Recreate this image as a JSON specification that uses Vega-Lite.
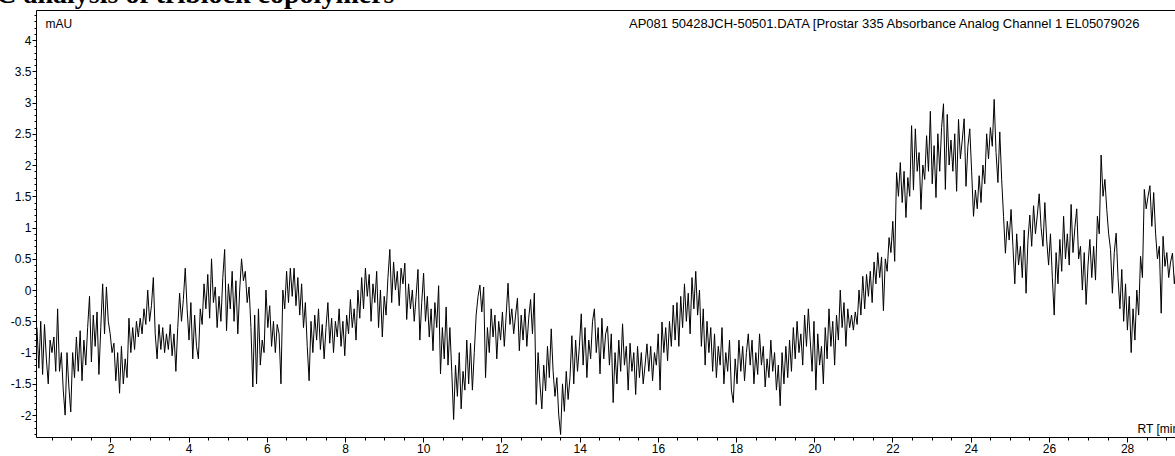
{
"$schema": "https://vega.github.io/schema/vega-lite/v6.json",
"width": 1139, "height": 427,
"autosize": {"type": "none"},
"padding": {"left": 36, "top": 10, "right": 0, "bottom": 19},
"background": "white",
"config": {"view": {"stroke": null}, "font": "Liberation Sans",
  "axis": {"labelFont": "Liberation Sans", "titleFont": "Liberation Sans", "labelColor": "black", "titleColor": "black", "domainColor": "black", "tickColor": "black", "grid": false, "labelFontSize": 12, "titleFontSize": 12, "titleFontWeight": "normal", "labelOverlap": false, "labelFlush": false}},
"title": {"text": "SEC analysis of triblock copolymers", "anchor": "start", "frame": "group", "font": "Liberation Serif", "fontSize": 28, "fontWeight": "bold", "color": "black", "offset": 1, "dx": -74, "dy": 28, "baseline": "bottom"},
"data": {"values": [
{"t":0.12,"v":-0.6},{"t":0.168,"v":-1.25},{"t":0.216,"v":-0.5},{"t":0.264,"v":-1.35},{"t":0.312,"v":-0.55},{"t":0.36,"v":-1.1},{"t":0.408,"v":-1.5},{"t":0.456,"v":-0.8},{"t":0.504,"v":-1.0},{"t":0.552,"v":-0.75},{"t":0.6,"v":-1.3},{"t":0.648,"v":-0.3},{"t":0.696,"v":-1.3},{"t":0.744,"v":-1.0},{"t":0.792,"v":-1.6},{"t":0.84,"v":-2.0},{"t":0.888,"v":-1.0},{"t":0.936,"v":-1.55},{"t":0.984,"v":-1.95},{"t":1.032,"v":-1.0},
{"t":1.08,"v":-1.4},{"t":1.128,"v":-0.75},{"t":1.176,"v":-1.3},{"t":1.224,"v":-0.65},{"t":1.272,"v":-1.45},{"t":1.32,"v":-0.8},{"t":1.368,"v":-1.2},{"t":1.416,"v":-0.6},{"t":1.464,"v":-0.1},{"t":1.512,"v":-1.15},{"t":1.56,"v":-0.4},{"t":1.608,"v":-0.9},{"t":1.656,"v":-0.35},{"t":1.704,"v":-1.35},{"t":1.752,"v":-0.6},{"t":1.8,"v":0.1},{"t":1.848,"v":-0.7},{"t":1.896,"v":0.05},{"t":1.944,"v":-0.5},{"t":1.992,"v":-0.7},
{"t":2.04,"v":-1.0},{"t":2.088,"v":-0.85},{"t":2.136,"v":-1.45},{"t":2.184,"v":-1.0},{"t":2.232,"v":-1.65},{"t":2.28,"v":-0.9},{"t":2.328,"v":-1.5},{"t":2.376,"v":-1.1},{"t":2.424,"v":-1.4},{"t":2.472,"v":-0.45},{"t":2.52,"v":-1.0},{"t":2.568,"v":-0.6},{"t":2.616,"v":-0.95},{"t":2.664,"v":-0.5},{"t":2.712,"v":-0.75},{"t":2.76,"v":-0.45},{"t":2.808,"v":-0.7},{"t":2.856,"v":-0.3},{"t":2.904,"v":-0.55},{"t":2.952,"v":0.0},
{"t":3.0,"v":-0.5},{"t":3.048,"v":-0.25},{"t":3.096,"v":0.2},{"t":3.144,"v":-0.7},{"t":3.192,"v":-1.1},{"t":3.24,"v":-0.55},{"t":3.288,"v":-0.95},{"t":3.336,"v":-0.6},{"t":3.384,"v":-1.0},{"t":3.432,"v":-0.7},{"t":3.48,"v":-0.95},{"t":3.528,"v":-0.55},{"t":3.576,"v":-1.05},{"t":3.624,"v":-0.7},{"t":3.672,"v":-1.3},{"t":3.72,"v":-0.6},{"t":3.768,"v":-0.05},{"t":3.816,"v":-0.5},{"t":3.864,"v":-0.15},{"t":3.912,"v":0.35},
{"t":3.96,"v":-0.3},{"t":4.008,"v":-0.8},{"t":4.056,"v":-0.2},{"t":4.104,"v":-1.1},{"t":4.152,"v":-0.4},{"t":4.2,"v":-0.9},{"t":4.248,"v":-1.1},{"t":4.296,"v":-0.3},{"t":4.344,"v":-0.55},{"t":4.392,"v":0.1},{"t":4.44,"v":-0.3},{"t":4.488,"v":0.25},{"t":4.536,"v":-0.45},{"t":4.584,"v":0.5},{"t":4.632,"v":-0.2},{"t":4.68,"v":0.05},{"t":4.728,"v":-0.6},{"t":4.776,"v":-0.1},{"t":4.824,"v":-0.5},{"t":4.872,"v":0.2},
{"t":4.92,"v":0.65},{"t":4.968,"v":-0.65},{"t":5.016,"v":0.1},{"t":5.064,"v":-0.3},{"t":5.112,"v":0.3},{"t":5.16,"v":-0.5},{"t":5.208,"v":0.15},{"t":5.256,"v":-0.7},{"t":5.304,"v":0.0},{"t":5.352,"v":0.5},{"t":5.4,"v":0.15},{"t":5.448,"v":0.3},{"t":5.496,"v":-0.2},{"t":5.544,"v":0.05},{"t":5.592,"v":-0.6},{"t":5.64,"v":-1.55},{"t":5.688,"v":-0.4},{"t":5.736,"v":-1.5},{"t":5.784,"v":-0.3},{"t":5.832,"v":-1.2},
{"t":5.88,"v":-0.8},{"t":5.928,"v":-1.0},{"t":5.976,"v":0.0},{"t":6.024,"v":-0.6},{"t":6.072,"v":-0.25},{"t":6.12,"v":-0.9},{"t":6.168,"v":-0.5},{"t":6.216,"v":-1.0},{"t":6.264,"v":-0.55},{"t":6.312,"v":-0.7},{"t":6.36,"v":-1.5},{"t":6.408,"v":0.0},{"t":6.456,"v":-0.3},{"t":6.504,"v":0.3},{"t":6.552,"v":-0.2},{"t":6.6,"v":0.35},{"t":6.648,"v":-0.1},{"t":6.696,"v":0.35},{"t":6.744,"v":-0.25},{"t":6.792,"v":0.2},
{"t":6.84,"v":-0.4},{"t":6.888,"v":0.1},{"t":6.936,"v":-0.6},{"t":6.984,"v":-0.2},{"t":7.032,"v":-0.9},{"t":7.08,"v":-1.45},{"t":7.128,"v":-0.5},{"t":7.176,"v":-1.0},{"t":7.224,"v":-0.4},{"t":7.272,"v":-0.8},{"t":7.32,"v":-0.3},{"t":7.368,"v":-0.95},{"t":7.416,"v":-0.55},{"t":7.464,"v":-1.1},{"t":7.512,"v":-0.6},{"t":7.56,"v":-0.2},{"t":7.608,"v":-0.85},{"t":7.656,"v":-0.45},{"t":7.704,"v":-1.0},{"t":7.752,"v":-0.5},
{"t":7.8,"v":-0.75},{"t":7.848,"v":-0.3},{"t":7.896,"v":-0.9},{"t":7.944,"v":-0.5},{"t":7.992,"v":-1.05},{"t":8.04,"v":-0.4},{"t":8.088,"v":-0.7},{"t":8.136,"v":-0.15},{"t":8.184,"v":-0.6},{"t":8.232,"v":-0.3},{"t":8.28,"v":-0.8},{"t":8.328,"v":0.0},{"t":8.376,"v":-0.45},{"t":8.424,"v":0.2},{"t":8.472,"v":-0.3},{"t":8.52,"v":0.35},{"t":8.568,"v":-0.1},{"t":8.616,"v":0.25},{"t":8.664,"v":-0.5},{"t":8.712,"v":0.1},
{"t":8.76,"v":-0.2},{"t":8.808,"v":0.3},{"t":8.856,"v":-0.6},{"t":8.904,"v":0.0},{"t":8.952,"v":-0.75},{"t":9.0,"v":-0.1},{"t":9.048,"v":-0.4},{"t":9.096,"v":0.2},{"t":9.144,"v":0.65},{"t":9.192,"v":-0.2},{"t":9.24,"v":0.45},{"t":9.288,"v":0.0},{"t":9.336,"v":0.3},{"t":9.384,"v":-0.25},{"t":9.432,"v":0.35},{"t":9.48,"v":0.1},{"t":9.528,"v":0.43},{"t":9.576,"v":-0.47},{"t":9.624,"v":0.1},{"t":9.672,"v":-0.3},
{"t":9.72,"v":0.0},{"t":9.768,"v":-0.5},{"t":9.816,"v":-0.1},{"t":9.864,"v":0.33},{"t":9.912,"v":-0.8},{"t":9.96,"v":-0.2},{"t":10.008,"v":0.27},{"t":10.056,"v":-0.5},{"t":10.104,"v":-0.1},{"t":10.152,"v":-0.75},{"t":10.2,"v":-0.3},{"t":10.248,"v":-0.97},{"t":10.296,"v":-0.2},{"t":10.344,"v":-0.6},{"t":10.392,"v":0.07},{"t":10.44,"v":-1.34},{"t":10.488,"v":-0.6},{"t":10.536,"v":-1.1},{"t":10.584,"v":-0.27},{"t":10.632,"v":-1.2},
{"t":10.68,"v":-0.6},{"t":10.728,"v":-1.3},{"t":10.776,"v":-2.07},{"t":10.824,"v":-1.2},{"t":10.872,"v":-1.7},{"t":10.92,"v":-1.0},{"t":10.968,"v":-1.9},{"t":11.016,"v":-1.3},{"t":11.064,"v":-1.6},{"t":11.112,"v":-0.8},{"t":11.16,"v":-1.5},{"t":11.208,"v":-0.85},{"t":11.256,"v":-1.6},{"t":11.304,"v":-1.0},{"t":11.352,"v":-0.4},{"t":11.4,"v":-0.1},{"t":11.448,"v":0.08},{"t":11.496,"v":-0.35},{"t":11.544,"v":0.05},{"t":11.592,"v":-1.4},
{"t":11.64,"v":-0.6},{"t":11.688,"v":-1.0},{"t":11.736,"v":-0.3},{"t":11.784,"v":-0.75},{"t":11.832,"v":-0.4},{"t":11.88,"v":-1.1},{"t":11.928,"v":-0.5},{"t":11.976,"v":-0.8},{"t":12.024,"v":-0.35},{"t":12.072,"v":-0.9},{"t":12.12,"v":-0.4},{"t":12.168,"v":0.11},{"t":12.216,"v":-0.55},{"t":12.264,"v":-0.3},{"t":12.312,"v":-0.7},{"t":12.36,"v":-0.4},{"t":12.408,"v":-0.13},{"t":12.456,"v":-0.97},{"t":12.504,"v":-0.4},{"t":12.552,"v":-0.8},
{"t":12.6,"v":-0.3},{"t":12.648,"v":-0.9},{"t":12.696,"v":-0.45},{"t":12.744,"v":-0.15},{"t":12.792,"v":-0.7},{"t":12.84,"v":-0.05},{"t":12.888,"v":-1.83},{"t":12.936,"v":-1.0},{"t":12.984,"v":-1.5},{"t":13.032,"v":-1.9},{"t":13.08,"v":-1.2},{"t":13.128,"v":-1.61},{"t":13.176,"v":-0.9},{"t":13.224,"v":-1.4},{"t":13.272,"v":-0.62},{"t":13.32,"v":-1.3},{"t":13.368,"v":-1.7},{"t":13.416,"v":-1.4},{"t":13.464,"v":-2.0},{"t":13.512,"v":-2.31},
{"t":13.56,"v":-1.5},{"t":13.608,"v":-1.94},{"t":13.656,"v":-1.3},{"t":13.704,"v":-1.75},{"t":13.752,"v":-1.4},{"t":13.8,"v":-0.73},{"t":13.848,"v":-1.5},{"t":13.896,"v":-0.8},{"t":13.944,"v":-1.3},{"t":13.992,"v":-0.9},{"t":14.04,"v":-0.38},{"t":14.088,"v":-1.2},{"t":14.136,"v":-0.6},{"t":14.184,"v":-1.4},{"t":14.232,"v":-0.8},{"t":14.28,"v":-1.1},{"t":14.328,"v":-0.5},{"t":14.376,"v":-0.3},{"t":14.424,"v":-1.0},{"t":14.472,"v":-0.6},
{"t":14.52,"v":-1.34},{"t":14.568,"v":-0.45},{"t":14.616,"v":-1.1},{"t":14.664,"v":-0.7},{"t":14.712,"v":-0.58},{"t":14.76,"v":-1.2},{"t":14.808,"v":-0.7},{"t":14.856,"v":-1.8},{"t":14.904,"v":-1.0},{"t":14.952,"v":-1.5},{"t":15.0,"v":-0.8},{"t":15.048,"v":-1.3},{"t":15.096,"v":-0.54},{"t":15.144,"v":-1.2},{"t":15.192,"v":-0.9},{"t":15.24,"v":-1.6},{"t":15.288,"v":-0.85},{"t":15.336,"v":-1.3},{"t":15.384,"v":-1.0},{"t":15.432,"v":-1.67},
{"t":15.48,"v":-0.9},{"t":15.528,"v":-1.4},{"t":15.576,"v":-1.0},{"t":15.624,"v":-1.5},{"t":15.672,"v":-1.2},{"t":15.72,"v":-0.86},{"t":15.768,"v":-1.3},{"t":15.816,"v":-0.9},{"t":15.864,"v":-1.45},{"t":15.912,"v":-1.0},{"t":15.96,"v":-1.2},{"t":16.008,"v":-0.7},{"t":16.056,"v":-1.6},{"t":16.104,"v":-0.51},{"t":16.152,"v":-1.0},{"t":16.2,"v":-0.6},{"t":16.248,"v":-1.13},{"t":16.296,"v":-0.5},{"t":16.344,"v":-0.9},{"t":16.392,"v":-0.24},
{"t":16.44,"v":-0.8},{"t":16.488,"v":-0.2},{"t":16.536,"v":-0.9},{"t":16.584,"v":-0.1},{"t":16.632,"v":-0.6},{"t":16.68,"v":0.1},{"t":16.728,"v":-0.5},{"t":16.776,"v":-0.05},{"t":16.824,"v":-0.7},{"t":16.872,"v":0.2},{"t":16.92,"v":-0.3},{"t":16.968,"v":0.3},{"t":17.016,"v":-0.4},{"t":17.064,"v":0.0},{"t":17.112,"v":-0.9},{"t":17.16,"v":-0.3},{"t":17.208,"v":-1.2},{"t":17.256,"v":-0.5},{"t":17.304,"v":-1.0},{"t":17.352,"v":-0.6},
{"t":17.4,"v":-1.3},{"t":17.448,"v":-0.7},{"t":17.496,"v":-1.4},{"t":17.544,"v":-0.9},{"t":17.592,"v":-1.2},{"t":17.64,"v":-0.6},{"t":17.688,"v":-1.5},{"t":17.736,"v":-1.0},{"t":17.784,"v":-1.3},{"t":17.832,"v":-0.8},{"t":17.88,"v":-1.6},{"t":17.928,"v":-1.8},{"t":17.976,"v":-1.1},{"t":18.024,"v":-1.5},{"t":18.072,"v":-0.8},{"t":18.12,"v":-1.3},{"t":18.168,"v":-0.9},{"t":18.216,"v":-1.45},{"t":18.264,"v":-1.0},{"t":18.312,"v":-0.7},
{"t":18.36,"v":-1.2},{"t":18.408,"v":-0.8},{"t":18.456,"v":-1.5},{"t":18.504,"v":-1.0},{"t":18.552,"v":-1.35},{"t":18.6,"v":-0.7},{"t":18.648,"v":-1.2},{"t":18.696,"v":-0.9},{"t":18.744,"v":-1.55},{"t":18.792,"v":-1.1},{"t":18.84,"v":-1.4},{"t":18.888,"v":-0.8},{"t":18.936,"v":-1.3},{"t":18.984,"v":-1.0},{"t":19.032,"v":-1.6},{"t":19.08,"v":-1.2},{"t":19.128,"v":-1.85},{"t":19.176,"v":-1.0},{"t":19.224,"v":-1.5},{"t":19.272,"v":-0.9},
{"t":19.32,"v":-1.4},{"t":19.368,"v":-0.8},{"t":19.416,"v":-1.3},{"t":19.464,"v":-0.6},{"t":19.512,"v":-1.1},{"t":19.56,"v":-0.5},{"t":19.608,"v":-1.0},{"t":19.656,"v":-0.7},{"t":19.704,"v":-1.2},{"t":19.752,"v":-0.4},{"t":19.8,"v":-0.9},{"t":19.848,"v":-0.3},{"t":19.896,"v":-0.8},{"t":19.944,"v":-1.3},{"t":19.992,"v":-0.5},{"t":20.04,"v":-1.6},{"t":20.088,"v":-0.7},{"t":20.136,"v":-1.2},{"t":20.184,"v":-0.9},{"t":20.232,"v":-1.5},
{"t":20.28,"v":-0.6},{"t":20.328,"v":-1.1},{"t":20.376,"v":-0.3},{"t":20.424,"v":-0.9},{"t":20.472,"v":-0.5},{"t":20.52,"v":-1.2},{"t":20.568,"v":-0.4},{"t":20.616,"v":-0.8},{"t":20.664,"v":0.0},{"t":20.712,"v":-0.6},{"t":20.76,"v":-0.2},{"t":20.808,"v":-0.9},{"t":20.856,"v":-0.3},{"t":20.904,"v":-0.6},{"t":20.952,"v":-0.4},{"t":21.0,"v":-0.64},{"t":21.048,"v":-0.35},{"t":21.096,"v":-0.55},{"t":21.144,"v":0.0},{"t":21.192,"v":-0.4},
{"t":21.24,"v":0.22},{"t":21.288,"v":-0.3},{"t":21.336,"v":0.25},{"t":21.384,"v":-0.1},{"t":21.432,"v":0.3},{"t":21.48,"v":-0.2},{"t":21.528,"v":0.45},{"t":21.576,"v":0.1},{"t":21.624,"v":0.6},{"t":21.672,"v":0.2},{"t":21.72,"v":0.53},{"t":21.768,"v":-0.33},{"t":21.816,"v":0.5},{"t":21.864,"v":0.3},{"t":21.912,"v":0.84},{"t":21.96,"v":0.6},{"t":22.008,"v":1.1},{"t":22.056,"v":0.46},{"t":22.104,"v":1.88},{"t":22.152,"v":1.5},
{"t":22.2,"v":2.04},{"t":22.248,"v":1.4},{"t":22.296,"v":1.9},{"t":22.344,"v":1.16},{"t":22.392,"v":1.8},{"t":22.44,"v":1.5},{"t":22.488,"v":2.63},{"t":22.536,"v":1.6},{"t":22.584,"v":2.58},{"t":22.632,"v":1.9},{"t":22.68,"v":2.2},{"t":22.728,"v":1.29},{"t":22.776,"v":2.0},{"t":22.824,"v":1.77},{"t":22.872,"v":2.47},{"t":22.92,"v":1.9},{"t":22.968,"v":2.86},{"t":23.016,"v":1.7},{"t":23.064,"v":2.31},{"t":23.112,"v":1.48},
{"t":23.16,"v":2.5},{"t":23.208,"v":1.9},{"t":23.256,"v":2.6},{"t":23.304,"v":2.98},{"t":23.352,"v":1.61},{"t":23.4,"v":2.81},{"t":23.448,"v":2.0},{"t":23.496,"v":2.4},{"t":23.544,"v":1.9},{"t":23.592,"v":2.5},{"t":23.64,"v":1.58},{"t":23.688,"v":2.73},{"t":23.736,"v":2.1},{"t":23.784,"v":2.4},{"t":23.832,"v":2.74},{"t":23.88,"v":1.66},{"t":23.928,"v":2.3},{"t":23.976,"v":2.58},{"t":24.024,"v":1.9},{"t":24.072,"v":1.18},
{"t":24.12,"v":1.6},{"t":24.168,"v":1.3},{"t":24.216,"v":1.83},{"t":24.264,"v":1.4},{"t":24.312,"v":2.0},{"t":24.36,"v":1.7},{"t":24.408,"v":2.5},{"t":24.456,"v":2.1},{"t":24.504,"v":2.6},{"t":24.552,"v":2.3},{"t":24.6,"v":3.05},{"t":24.648,"v":2.2},{"t":24.696,"v":1.72},{"t":24.744,"v":2.53},{"t":24.792,"v":1.77},{"t":24.84,"v":1.18},{"t":24.888,"v":0.59},{"t":24.936,"v":1.1},{"t":24.984,"v":0.8},{"t":25.032,"v":1.29},
{"t":25.08,"v":0.7},{"t":25.128,"v":0.1},{"t":25.176,"v":0.9},{"t":25.224,"v":0.4},{"t":25.272,"v":0.7},{"t":25.32,"v":0.2},{"t":25.368,"v":0.96},{"t":25.416,"v":-0.05},{"t":25.464,"v":0.8},{"t":25.512,"v":1.2},{"t":25.56,"v":0.7},{"t":25.608,"v":1.35},{"t":25.656,"v":0.9},{"t":25.704,"v":1.2},{"t":25.752,"v":1.54},{"t":25.8,"v":1.0},{"t":25.848,"v":0.7},{"t":25.896,"v":1.4},{"t":25.944,"v":0.8},{"t":25.992,"v":0.4},
{"t":26.04,"v":0.9},{"t":26.088,"v":0.2},{"t":26.136,"v":-0.4},{"t":26.184,"v":0.6},{"t":26.232,"v":0.1},{"t":26.28,"v":0.81},{"t":26.328,"v":0.3},{"t":26.376,"v":1.18},{"t":26.424,"v":0.5},{"t":26.472,"v":0.9},{"t":26.52,"v":0.4},{"t":26.568,"v":1.37},{"t":26.616,"v":0.6},{"t":26.664,"v":1.0},{"t":26.712,"v":1.3},{"t":26.76,"v":0.5},{"t":26.808,"v":0.7},{"t":26.856,"v":0.0},{"t":26.904,"v":0.6},{"t":26.952,"v":-0.23},
{"t":27.0,"v":0.4},{"t":27.048,"v":0.81},{"t":27.096,"v":0.2},{"t":27.144,"v":0.7},{"t":27.192,"v":0.16},{"t":27.24,"v":1.18},{"t":27.288,"v":0.9},{"t":27.336,"v":2.16},{"t":27.384,"v":1.5},{"t":27.432,"v":1.77},{"t":27.48,"v":1.29},{"t":27.528,"v":0.9},{"t":27.576,"v":0.65},{"t":27.624,"v":-0.05},{"t":27.672,"v":0.6},{"t":27.72,"v":0.91},{"t":27.768,"v":0.2},{"t":27.816,"v":-0.3},{"t":27.864,"v":0.33},{"t":27.912,"v":-0.5},
{"t":27.96,"v":0.1},{"t":28.008,"v":-0.64},{"t":28.056,"v":-0.1},{"t":28.104,"v":-1.0},{"t":28.152,"v":-0.3},{"t":28.2,"v":-0.8},{"t":28.248,"v":0.0},{"t":28.296,"v":-0.4},{"t":28.344,"v":0.54},{"t":28.392,"v":0.2},{"t":28.44,"v":1.61},{"t":28.488,"v":1.3},{"t":28.536,"v":1.5},{"t":28.584,"v":1.67},{"t":28.632,"v":1.02},{"t":28.68,"v":1.56},{"t":28.728,"v":0.91},{"t":28.776,"v":0.5},{"t":28.824,"v":0.7},{"t":28.872,"v":-0.37},
{"t":28.92,"v":0.86},{"t":28.968,"v":0.38},{"t":29.016,"v":0.6},{"t":29.064,"v":0.2},{"t":29.112,"v":0.45},{"t":29.16,"v":0.59},{"t":29.208,"v":0.1},{"t":29.256,"v":0.38}
]},
"layer": [
 {"mark": {"type": "line", "color": "black", "strokeWidth": 1, "clip": true},
  "encoding": {
   "x": {"field": "t", "type": "quantitative", "scale": {"domain": [0.095, 29.225], "nice": false, "zero": false},
     "axis": {"orient": "bottom", "values": [2,4,6,8,10,12,14,16,18,20,22,24,26,28], "labelExpr": "'' + datum.value", "tickSize": 5, "labelPadding": 1, "domain": true,
       "title": "RT [min]", "titleX": 1101, "titleY": -9, "titleAlign": "left", "titleBaseline": "middle", "titleAngle": 0}},
   "y": {"field": "v", "type": "quantitative", "scale": {"domain": [-2.35, 4.48], "nice": false, "zero": false},
     "axis": {"orient": "left", "values": [-2,-1.5,-1,-0.5,0,0.5,1,1.5,2,2.5,3,3.5,4], "labelExpr": "'' + datum.value", "tickSize": 4, "labelPadding": 1, "domain": true,
       "title": "mAU", "titleX": 9, "titleY": 13, "titleAlign": "left", "titleBaseline": "middle", "titleAngle": 0}}
  }},
 {"mark": {"type": "line", "opacity": 0},
  "encoding": {
   "x": {"field": "t", "type": "quantitative", "scale": {"domain": [0.095, 29.225], "nice": false, "zero": false},
     "axis": {"orient": "bottom", "tickCount": 60, "labels": false, "domain": false, "tickSize": 3, "title": null}},
   "y": {"field": "v", "type": "quantitative", "scale": {"domain": [-2.35, 4.48], "nice": false, "zero": false},
     "axis": {"orient": "left", "tickCount": 68, "labels": false, "domain": false, "tickSize": 2, "title": null}}
  }},
 {"mark": {"type": "line", "opacity": 0},
  "encoding": {
   "x": {"field": "t", "type": "quantitative", "scale": {"domain": [0.095, 29.225], "nice": false, "zero": false},
     "axis": {"orient": "top", "labels": false, "ticks": false, "domain": true,
       "title": "AP081 50428JCH-50501.DATA [Prostar 335 Absorbance Analog Channel 1 EL05079026", "titleFontSize": 13, "titleX": 1103, "titleY": 13, "titleAlign": "right", "titleBaseline": "middle", "titleAngle": 0}},
   "y": {"field": "v", "type": "quantitative", "scale": {"domain": [-2.35, 4.48], "nice": false, "zero": false}, "axis": null}
  }}
],
"resolve": {"axis": {"x": "independent", "y": "independent"}}
}
